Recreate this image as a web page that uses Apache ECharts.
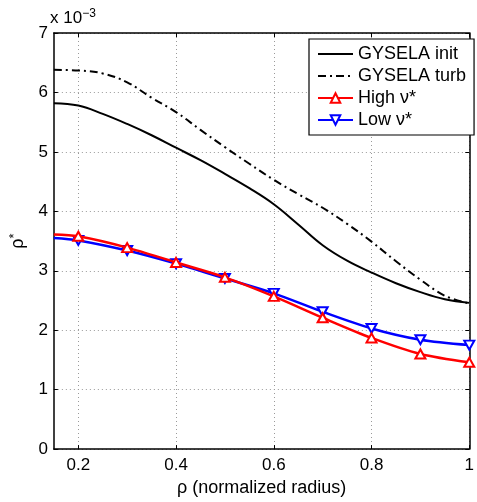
<!DOCTYPE html>
<html>
<head>
<meta charset="utf-8">
<script src="https://cdn.jsdelivr.net/npm/echarts@6/dist/echarts.min.js"></script>
<style>html,body{margin:0;padding:0;background:#fff;}#c{width:477px;height:502px;}</style>
</head>
<body>
<div id="c"></div>
<script>
// Data (rho* values in units of 1e-3)
const rhoDense = [0.15,0.2,0.25,0.3,0.35,0.4,0.45,0.5,0.55,0.6,0.65,0.7,0.75,0.8,0.85,0.9,0.95,1.0];
const gyselaInit = [5.82,5.78,5.64,5.47,5.28,5.07,4.86,4.63,4.39,4.12,3.78,3.43,3.17,2.97,2.79,2.64,2.52,2.46];
const gyselaTurb = [6.38,6.37,6.32,6.17,5.91,5.67,5.37,5.08,4.80,4.53,4.29,4.06,3.79,3.49,3.16,2.85,2.58,2.45];
const rhoMarked = [0.15,0.2,0.3,0.4,0.5,0.6,0.7,0.8,0.9,1.0];
const highNu = [3.61,3.58,3.39,3.14,2.89,2.57,2.21,1.87,1.60,1.46];
const lowNu = [3.55,3.51,3.34,3.12,2.87,2.62,2.31,2.03,1.84,1.75];
const xTicks = [0.2,0.4,0.6,0.8,1.0];
const yTicks = [0,1,2,3,4,5,6,7];
const legendNames = ['GYSELA init','GYSELA turb','High \u03bd*','Low \u03bd*'];

const chart = echarts.init(document.getElementById('c'));
const FONT = 'Liberation Sans, Arial, Helvetica, sans-serif';
const zip = (xs, ys) => xs.map((x,i)=>[x,ys[i]]);
const marked = (xs, ys) => xs.map((x,i)=> i===0 ? {value:[x,ys[i]], symbol:'none'} : [x,ys[i]]);
const gridLine = {show:true, lineStyle:{color:'#9a9a9a', width:1, type:[1,3]}};
const downTri = 'path://M0,0 L10,0 L5,9 Z';

chart.setOption({
  animation:false,
  backgroundColor:'#fff',
  textStyle:{fontFamily:FONT},
  grid:{left:52, right:2, top:33, bottom:47, containLabel:false},
  xAxis:[{
    type:'value', min:0.15, max:1, position:'bottom',
    axisLine:{show:true, onZero:false, lineStyle:{color:'#000', width:1.5}},
    axisTick:{show:true, inside:true, length:4, customValues:xTicks, lineStyle:{color:'#000'}},
    axisLabel:{customValues:xTicks, color:'#000', fontSize:17, margin:8, fontFamily:FONT,
      formatter:v=> (Math.abs(v-1)<1e-9 ? '1' : v.toFixed(1))},
    splitLine:gridLine,
    name:'\u03c1 (normalized radius)', nameLocation:'middle', nameGap:27,
    nameTextStyle:{color:'#000', fontSize:18, fontFamily:FONT}
  },{
    type:'value', min:0.15, max:1, position:'top',
    axisLine:{show:true, onZero:false, lineStyle:{color:'#000', width:1.5}},
    axisTick:{show:true, inside:true, length:4, customValues:xTicks, lineStyle:{color:'#000'}},
    axisLabel:{show:false}, splitLine:{show:false}
  }],
  yAxis:[{
    type:'value', min:0, max:7, interval:1, position:'left',
    axisLine:{show:true, onZero:false, lineStyle:{color:'#000', width:1.5}},
    axisTick:{show:true, inside:true, length:4, lineStyle:{color:'#000'}},
    axisLabel:{color:'#000', fontSize:17, margin:6, fontFamily:FONT},
    splitLine:gridLine,
    name:'{a|\u03c1}{b|*}', nameLocation:'middle', nameGap:24, nameRotate:90,
    nameTextStyle:{color:'#000', fontFamily:FONT,
      rich:{a:{fontSize:18, color:'#000', fontFamily:FONT}, b:{fontSize:13, color:'#000', verticalAlign:'top', padding:[0,0,8,0], fontFamily:FONT}}}
  },{
    type:'value', min:0, max:7, interval:1, position:'right',
    axisLine:{show:true, onZero:false, lineStyle:{color:'#000', width:1.5}},
    axisTick:{show:true, inside:true, length:4, lineStyle:{color:'#000'}},
    axisLabel:{show:false}, splitLine:{show:false}
  }],
  legend:{
    orient:'vertical', left:309, top:39, padding:[6,8,6,8],
    backgroundColor:'#fff', borderColor:'#000', borderWidth:1.2, borderRadius:0,
    itemWidth:35, itemHeight:12, itemGap:4,
    textStyle:{color:'#000', fontSize:18, fontFamily:FONT, lineHeight:18},
    data:[
      {name:legendNames[0], itemStyle:{opacity:0}},
      {name:legendNames[1], itemStyle:{opacity:0}},
      {name:legendNames[2]},
      {name:legendNames[3]}
    ]
  },
  graphic:[{
    type:'text', left:50, top:8,
    style:{text:'{n|x 10}{s|\u22123}', fill:'#000', font:'17px '+FONT,
      rich:{n:{fontSize:17, fontFamily:FONT, fill:'#000'}, s:{fontSize:12, fontFamily:FONT, fill:'#000', verticalAlign:'top', padding:[0,0,8,0]}}}
  }],
  series:[
    {name:legendNames[0], type:'line', data:zip(rhoDense,gyselaInit), smooth:0.4, symbol:'none',
      lineStyle:{color:'#000', width:2}, itemStyle:{color:'#000'}, z:3},
    {name:legendNames[1], type:'line', data:zip(rhoDense,gyselaTurb), smooth:0.4, symbol:'none',
      lineStyle:{color:'#000', width:2, type:[8,4,2,4]}, itemStyle:{color:'#000'}, z:3},
    {name:legendNames[3], type:'line', data:marked(rhoMarked,lowNu), smooth:0.3, symbol:downTri, symbolSize:[10,9],
      lineStyle:{color:'#0000ff', width:2.5}, itemStyle:{color:'#ffffff', borderColor:'#0000ff', borderWidth:2}, z:4},
    {name:legendNames[2], type:'line', data:marked(rhoMarked,highNu), smooth:0.3, symbol:'triangle', symbolSize:[10,9],
      lineStyle:{color:'#ff0000', width:2.5}, itemStyle:{color:'#ffffff', borderColor:'#ff0000', borderWidth:2}, z:5}
  ]
});
</script>
</body>
</html>
